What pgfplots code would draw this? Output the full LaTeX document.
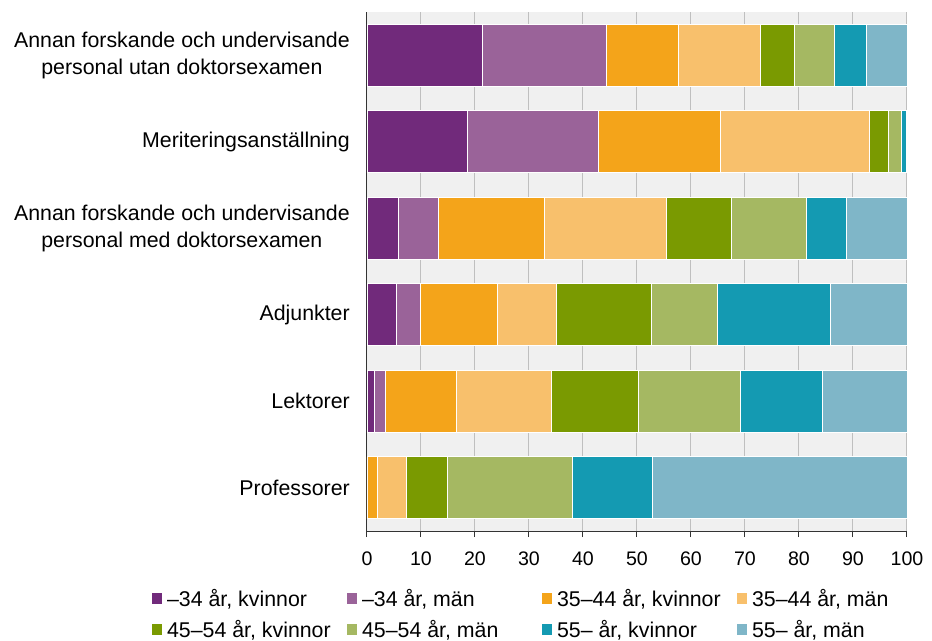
\documentclass[border=0pt]{standalone}
\usepackage{fontspec}
\setmainfont{Liberation Sans}
\usepackage{pgfplots}
\usepackage{pgfplotstable}
\pgfplotsset{compat=1.18}
\definecolor{c1}{HTML}{712A7B}
\definecolor{c2}{HTML}{9A6399}
\definecolor{c3}{HTML}{F4A41A}
\definecolor{c4}{HTML}{F8C06C}
\definecolor{c5}{HTML}{7A9A01}
\definecolor{c6}{HTML}{A5B862}
\definecolor{c7}{HTML}{149AB2}
\definecolor{c8}{HTML}{7FB6C8}
\pgfplotstableread{
y a b c d e f g h
0 21.4 23.0 13.3 15.1 6.4 7.4 5.9 7.5
1 18.6 24.3 22.6 27.6 3.5 2.4 0.8 0.2
2 5.7 7.5 19.7 22.6 11.9 14.0 7.4 11.2
3 5.4 4.4 14.3 10.9 17.6 12.2 20.9 14.3
4 1.3 2.0 13.2 17.7 16.1 18.9 15.1 15.7
5 0 0 1.9 5.4 7.6 23.2 14.8 47.1
}\datatable
\pgfplotsset{lgsq/.style={legend image code/.code={\fill[##1,draw=none] (0pt,1.5pt) rectangle (7.5pt,9.75pt);}}}
\newcommand\legtxt[1]{\makebox[135pt][l]{\rule[-6pt]{0pt}{24pt}#1}}
\begin{document}
\begin{tikzpicture}
\begin{axis}[
  scale only axis, width=405pt, height=389.25pt,
  xbar stacked, bar width=46.5pt,
  xmin=0, xmax=100, ymin=-0.5, ymax=5.5, y dir=reverse,
  axis background/.style={fill=black!6},
  axis x line*=bottom, axis y line*=left,
  axis line style={-, draw=black!80, line width=0.75pt},
  ytick={0,...,5},
  yticklabels={{Annan forskande och undervisande\\personal utan doktorsexamen},
    Meriteringsanställning,
    {Annan forskande och undervisande\\personal med doktorsexamen},
    Adjunkter, Lektorer, Professorer},
  y tick label style={align=center, inner sep=0pt, xshift=-12.75pt, font=\fontsize{16}{20}\selectfont},
  ytick style={draw=none},
  xtick={0,10,...,100},
  xtick align=outside, major tick length=4.5pt,
  xtick style={draw=black!80, line width=0.75pt},
  x tick label style={font=\fontsize{14.7}{17}\selectfont, yshift=-7.5pt},
  /pgf/number format/assume math mode=true,
  xmajorgrids, major grid style={draw=black!25, line width=0.75pt},
  legend columns=4,
  legend style={at={(axis description cs:-0.398,-0.0983)}, anchor=north west,
    draw=none, fill=none, inner sep=0pt, outer sep=0pt, row sep=3.75pt, column sep=0pt,
    nodes={inner sep=0pt, font=\fontsize{16}{19}\selectfont},
    cells={anchor=base west},
    /tikz/every odd column/.append style={column sep=3.75pt}},
  every axis plot/.append style={draw=white, line width=0.4pt},
]
\addplot[lgsq, fill=c1] table[x=a,y=y]{\datatable};
\addlegendentry{\legtxt{–34 år, kvinnor}}
\addplot[lgsq, fill=c2] table[x=b,y=y]{\datatable};
\addlegendentry{\legtxt{–34 år, män}}
\addplot[lgsq, fill=c3] table[x=c,y=y]{\datatable};
\addlegendentry{\legtxt{35–44 år, kvinnor}}
\addplot[lgsq, fill=c4] table[x=d,y=y]{\datatable};
\addlegendentry{\legtxt{35–44 år, män}}
\addplot[lgsq, fill=c5] table[x=e,y=y]{\datatable};
\addlegendentry{\legtxt{45–54 år, kvinnor}}
\addplot[lgsq, fill=c6] table[x=f,y=y]{\datatable};
\addlegendentry{\legtxt{45–54 år, män}}
\addplot[lgsq, fill=c7] table[x=g,y=y]{\datatable};
\addlegendentry{\legtxt{55– år, kvinnor}}
\addplot[lgsq, fill=c8] table[x=h,y=y]{\datatable};
\addlegendentry{\legtxt{55– år, män}}
\end{axis}
\pgfresetboundingbox
\path ([shift={(-275.25pt,-82.5pt)}]current axis.south west) rectangle ([shift={(423.75pt,398.25pt)}]current axis.south west);
\end{tikzpicture}
\end{document}
